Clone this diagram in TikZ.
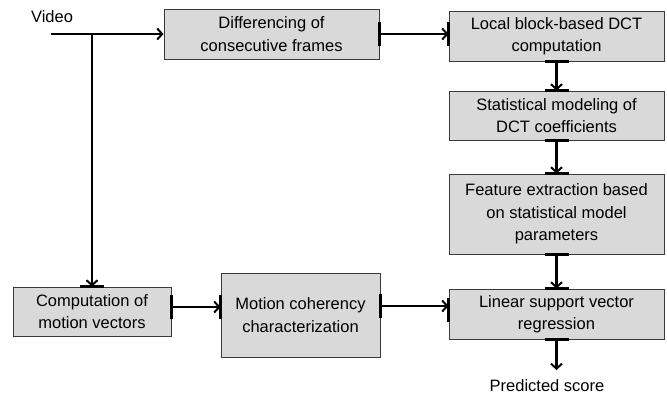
\documentclass[tikz,border=0pt]{standalone}
\usepackage{fontspec}
\setmainfont{Liberation Sans}
\usetikzlibrary{arrows.meta,calc}
\definecolor{boxfill}{HTML}{D9D9D9}
\definecolor{boxline}{HTML}{3A3A3A}
\begin{document}
\begin{tikzpicture}[x=1pt,y=-1pt,
  blk/.style={draw=boxline,line width=0.9pt,fill=boxfill,minimum width=#1,inner sep=0pt,align=center,
    font=\fontsize{16.5}{22.5}\selectfont},
  blk/.default=215pt,
  conn/.style={line width=2.2pt,-{Straight Barb[length=5pt,width=11pt,line width=2pt]}},
  endbar/.style={line width=2.6pt,draw=black},
  lbl/.style={font=\fontsize{16.5}{22.5}\selectfont,inner sep=0pt}]
\useasboundingbox (0,0) rectangle (667,394);

\node[blk, minimum height=50pt] (diff) at (271.5,34) {Differencing of\\consecutive frames};
\node[blk, minimum height=50pt] (local) at (556.5,36) {Local block-based DCT\\computation};
\node[blk, minimum height=49pt] (stat) at (556.5,115.5) {Statistical modeling of\\DCT coefficients};
\node[blk, minimum height=80pt] (feat) at (556.5,214) {Feature extraction based\\on statistical model\\parameters};
\node[blk, minimum height=50pt] (lin) at (556.5,314) {Linear support vector\\regression};
\node[blk=158pt, minimum height=49pt] (comp) at (92,311.5) {Computation of\\motion vectors};
\node[blk=159pt, minimum height=84pt] (mot) at (300.5,315) {Motion coherency\\characterization};

\node[lbl] (video) at (52,17) {Video};
\node[lbl] (pred) at (547,386) {Predicted score};

\coordinate (vstart) at (51,34);
\coordinate (branch) at (92,34);
\coordinate (predend) at (556.5,370);

% connectors
\draw[conn] (vstart) -- (diff.west);
\draw[conn] (branch) -- (comp.north);
\draw[conn] (diff.east) -- (diff.east -| local.west);
\draw[conn] (local.south) -- (stat.north);
\draw[conn] (stat.south) -- (feat.north);
\draw[conn] (feat.south) -- (lin.north);
\draw[conn] (lin.south) -- (predend);
\draw[conn] ([yshift=4.5pt]comp.east) -- ([yshift=4.5pt]comp.east -| mot.west);
\draw[conn] ([yshift=9pt]mot.east) -- ([yshift=9pt]mot.east -| lin.west);

% connection bars
\foreach \n in {local.south,stat.north,stat.south,feat.north,feat.south,lin.north,lin.south,comp.north}
  \draw[endbar] ([xshift=-12pt]\n) -- ([xshift=12pt]\n);
\draw[endbar] ([yshift=-12pt]diff.east) -- ([yshift=12pt]diff.east);
\draw[endbar] ($(diff.east -| local.west)+(0,-12)$) -- ($(diff.east -| local.west)+(0,12)$);
\draw[endbar] ($(comp.east)+(0,-16.5)$) -- ($(comp.east)+(0,7.5)$);
\draw[endbar] ($(comp.east -| mot.west)+(0,-16.5)$) -- ($(comp.east -| mot.west)+(0,7.5)$);
\draw[endbar] ($(mot.east)+(0,-21)$) -- ($(mot.east)+(0,3)$);
\draw[endbar] ($(lin.west)+(0,-16)$) -- ($(lin.west)+(0,8)$);
\end{tikzpicture}
\end{document}
